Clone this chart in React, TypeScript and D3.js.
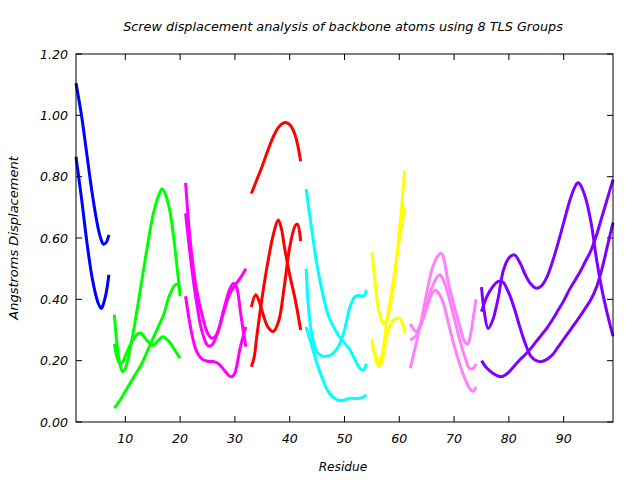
import React from 'react';
import * as d3 from 'd3';

type Pt = [number, number];

const titleText = 'Screw displacement analysis of backbone atoms using 8 TLS Groups';
const xLabelText = 'Residue';
const yLabelText = 'Angstroms Displacement';
const xTicks = [10, 20, 30, 40, 50, 60, 70, 80, 90];
const yTicks = [0, 0.2, 0.4, 0.6, 0.8, 1.0, 1.2];
const xDomain = [1, 99];
const yDomain = [0, 1.2];

const groupColors = ['#0000ff', '#00ff00', '#ff00ff', '#ff0000', '#00ffff', '#ffff00', '#ff80ff', '#8000ff'];

// Group 1 (blue)
const blue1: Pt[] = [[1, 1.105], [2, 1.0], [3, 0.87], [4, 0.74], [5, 0.635], [5.5, 0.6], [6, 0.58], [6.5, 0.585], [7, 0.61]];
const blue2: Pt[] = [[1, 0.865], [2, 0.73], [3, 0.585], [4, 0.465], [5, 0.39], [5.6, 0.37], [6, 0.385], [6.5, 0.42], [7, 0.48]];
// Group 2 (green)
const green1: Pt[] = [[8, 0.35], [8.5, 0.25], [9, 0.19], [9.5, 0.165], [10, 0.175], [11, 0.25], [12, 0.35], [13, 0.46], [14, 0.57], [15, 0.67], [16, 0.735], [16.7, 0.76], [17, 0.755], [18, 0.7], [19, 0.575], [20, 0.41]];
const green2: Pt[] = [[8, 0.255], [8.5, 0.21], [9, 0.19], [9.5, 0.195], [10, 0.215], [11, 0.255], [12, 0.283], [12.7, 0.29], [13, 0.288], [14, 0.265], [15, 0.25], [16, 0.265], [16.8, 0.278], [18, 0.262], [19, 0.235], [20, 0.208]];
const green3: Pt[] = [[8, 0.045], [9, 0.07], [10, 0.1], [11, 0.13], [12, 0.16], [13, 0.19], [14, 0.23], [15, 0.27], [16, 0.31], [17, 0.35], [18, 0.41], [19, 0.445], [19.5, 0.45], [20, 0.43]];
// Group 3 (magenta)
const mag1: Pt[] = [[21, 0.78], [21.5, 0.66], [22, 0.565], [23, 0.43], [24, 0.35], [25, 0.29], [25.8, 0.273], [26.5, 0.28], [27, 0.3], [28, 0.36], [29, 0.415], [30, 0.445], [31, 0.47], [32, 0.5]];
const mag2: Pt[] = [[21, 0.68], [22, 0.52], [23, 0.39], [24, 0.295], [25, 0.25], [25.5, 0.248], [26, 0.255], [27, 0.3], [28, 0.37], [29, 0.43], [29.7, 0.452], [30.3, 0.44], [31, 0.36], [31.5, 0.3], [32, 0.245]];
const mag3: Pt[] = [[21, 0.41], [22, 0.3], [23, 0.23], [24, 0.205], [25, 0.198], [26, 0.197], [27, 0.19], [28, 0.17], [29, 0.15], [29.5, 0.148], [30, 0.16], [31, 0.245], [32, 0.31]];
// Group 4 (red)
const red1: Pt[] = [[33, 0.745], [34, 0.79], [35, 0.835], [36, 0.885], [37, 0.93], [38, 0.962], [39, 0.976], [40, 0.97], [41, 0.935], [42, 0.85]];
const red2: Pt[] = [[33, 0.18], [33.5, 0.21], [34, 0.28], [35, 0.41], [36, 0.52], [37, 0.61], [37.9, 0.659], [38.5, 0.63], [39, 0.575], [40, 0.48], [41, 0.4], [42, 0.3]];
const red3: Pt[] = [[33, 0.375], [33.8, 0.415], [34.5, 0.39], [35, 0.36], [36, 0.31], [37, 0.295], [38, 0.33], [39, 0.44], [40, 0.57], [41, 0.64], [41.4, 0.645], [42, 0.59]];
// Group 5 (cyan)
const cyan1: Pt[] = [[43, 0.76], [44, 0.63], [45, 0.51], [46, 0.42], [47, 0.35], [48, 0.31], [49, 0.28], [50, 0.258], [51, 0.235], [52, 0.2], [53, 0.172], [53.5, 0.17], [54, 0.19]];
const cyan2: Pt[] = [[43, 0.5], [43.4, 0.38], [44, 0.29], [45, 0.228], [46, 0.215], [47, 0.215], [48, 0.225], [49, 0.25], [50, 0.3], [51, 0.375], [52, 0.41], [53, 0.412], [53.5, 0.41], [54, 0.43]];
const cyan3: Pt[] = [[43, 0.31], [44, 0.25], [45, 0.19], [46, 0.14], [47, 0.1], [48, 0.08], [49, 0.07], [50, 0.072], [51, 0.077], [52, 0.077], [53, 0.078], [54, 0.088]];
// Group 6 (yellow)
const yel1: Pt[] = [[55, 0.555], [55.5, 0.47], [56, 0.39], [56.5, 0.345], [57, 0.322], [57.5, 0.325], [58, 0.35], [59, 0.45], [60, 0.62], [61, 0.82]];
const yel2: Pt[] = [[55, 0.27], [55.5, 0.22], [56, 0.19], [56.3, 0.18], [57, 0.235], [58, 0.36], [59, 0.47], [60, 0.59], [61, 0.7]];
const yel3: Pt[] = [[55, 0.25], [56, 0.205], [56.7, 0.19], [57, 0.21], [57.5, 0.26], [58, 0.3], [59, 0.333], [60, 0.338], [60.5, 0.325], [61, 0.29]];
// Group 7 (pink)
const pink1: Pt[] = [[62, 0.175], [63, 0.25], [64, 0.33], [65, 0.42], [66, 0.5], [67, 0.54], [67.6, 0.55], [68, 0.54], [69, 0.45], [70, 0.38], [71, 0.315], [72, 0.26], [72.5, 0.255], [73, 0.285], [73.5, 0.34], [74, 0.4]];
const pink2: Pt[] = [[62, 0.32], [62.5, 0.305], [63, 0.295], [64, 0.32], [65, 0.38], [66, 0.44], [67, 0.475], [67.4, 0.48], [68, 0.465], [69, 0.41], [70, 0.34], [71, 0.27], [72, 0.21], [72.8, 0.175], [73.5, 0.175], [74, 0.19]];
const pink3: Pt[] = [[62, 0.267], [63, 0.28], [64, 0.32], [65, 0.37], [66, 0.42], [66.6, 0.43], [67, 0.425], [68, 0.39], [69, 0.32], [70, 0.25], [71, 0.19], [72, 0.14], [73, 0.105], [73.5, 0.1], [74, 0.115]];
// Group 8 (purple)
const pur1: Pt[] = [[75, 0.44], [75.5, 0.36], [76.2, 0.305], [77, 0.33], [78, 0.4], [79, 0.495], [80, 0.535], [81, 0.545], [82, 0.52], [83, 0.48], [84, 0.45], [85, 0.436], [86, 0.445], [87, 0.475], [88, 0.525], [89, 0.585], [90, 0.65], [91, 0.715], [92, 0.765], [92.6, 0.78], [93, 0.775], [94, 0.73], [95, 0.65], [96, 0.53], [97, 0.43], [98, 0.35], [99, 0.28]];
const pur2: Pt[] = [[75, 0.36], [76, 0.41], [77, 0.44], [78, 0.458], [78.5, 0.46], [79, 0.455], [80, 0.42], [81, 0.37], [82, 0.31], [83, 0.255], [84, 0.215], [85, 0.2], [86, 0.197], [87, 0.205], [88, 0.22], [89, 0.245], [90, 0.27], [91, 0.295], [92, 0.32], [93, 0.345], [94, 0.372], [95, 0.4], [96, 0.44], [97, 0.5], [98, 0.575], [99, 0.65]];
const pur3: Pt[] = [[75, 0.2], [76, 0.175], [77, 0.16], [78, 0.15], [78.7, 0.148], [79, 0.15], [80, 0.163], [81, 0.183], [82, 0.203], [83, 0.22], [84, 0.24], [85, 0.263], [86, 0.285], [87, 0.308], [88, 0.335], [89, 0.365], [90, 0.395], [91, 0.43], [92, 0.46], [93, 0.49], [94, 0.525], [95, 0.56], [96, 0.61], [97, 0.67], [98, 0.73], [99, 0.79]];

const groups: Pt[][][] = [
  [blue1, blue2],
  [green1, green2, green3],
  [mag1, mag2, mag3],
  [red1, red2, red3],
  [cyan1, cyan2, cyan3],
  [yel1, yel2, yel3],
  [pink1, pink2, pink3],
  [pur1, pur2, pur3],
];

const W = 640;
const H = 480;
const L = 76;
const R = 613;
const T = 54;
const B = 422;
const FONT = '"DejaVu Sans", sans-serif';

export default function App() {
  const x = d3.scaleLinear().domain(xDomain).range([L, R]);
  const y = d3.scaleLinear().domain(yDomain).range([B, T]);
  const line = d3
    .line<Pt>()
    .x((d) => x(d[0]))
    .y((d) => y(d[1]))
    .curve(d3.curveCatmullRom.alpha(0.5));
  const fmt = d3.format('.2f');
  const tick = 6;

  return (
    <svg width={W} height={H} style={{ position: 'absolute', left: 0, top: 0, background: '#fff' }}>
      <rect x={0} y={0} width={W} height={H} fill="#fff" />
      <text x={343} y={31} textAnchor="middle" fontFamily={FONT} fontStyle="italic" fontSize={12.8} fill="#000">
        {titleText}
      </text>
      {yTicks.map((t) => (
        <g key={'y' + t}>
          <line x1={L} x2={L + tick} y1={y(t)} y2={y(t)} stroke="#000" />
          <line x1={R} x2={R - tick} y1={y(t)} y2={y(t)} stroke="#000" />
          <text x={L - 8} y={y(t) + 4.5} textAnchor="end" fontFamily={FONT} fontStyle="italic" fontSize={12.6} fill="#000">
            {fmt(t)}
          </text>
        </g>
      ))}
      {xTicks.map((t) => (
        <g key={'x' + t}>
          <line x1={x(t)} x2={x(t)} y1={B} y2={B - tick} stroke="#000" />
          <line x1={x(t)} x2={x(t)} y1={T} y2={T + tick} stroke="#000" />
          <text x={x(t)} y={443} textAnchor="middle" fontFamily={FONT} fontStyle="italic" fontSize={12.6} fill="#000">
            {t}
          </text>
        </g>
      ))}
      <g>
        {groups.map((g, gi) =>
          g.map((pts, ci) => (
            <path
              key={gi + '-' + ci}
              d={line(pts) || ''}
              fill="none"
              stroke={groupColors[gi]}
              strokeWidth={3}
              strokeLinejoin="round"
              strokeLinecap="butt"
            />
          ))
        )}
      </g>
      <rect x={L} y={T} width={R - L} height={B - T} fill="none" stroke="#000" strokeWidth={1} />
      <text x={343} y={471} textAnchor="middle" fontFamily={FONT} fontStyle="italic" fontSize={12.2} fill="#000">
        {xLabelText}
      </text>
      <text
        transform={`translate(18, ${(T + B) / 2}) rotate(-90)`}
        textAnchor="middle"
        fontFamily={FONT}
        fontStyle="italic"
        fontSize={13}
        fill="#000"
      >
        {yLabelText}
      </text>
    </svg>
  );
}
